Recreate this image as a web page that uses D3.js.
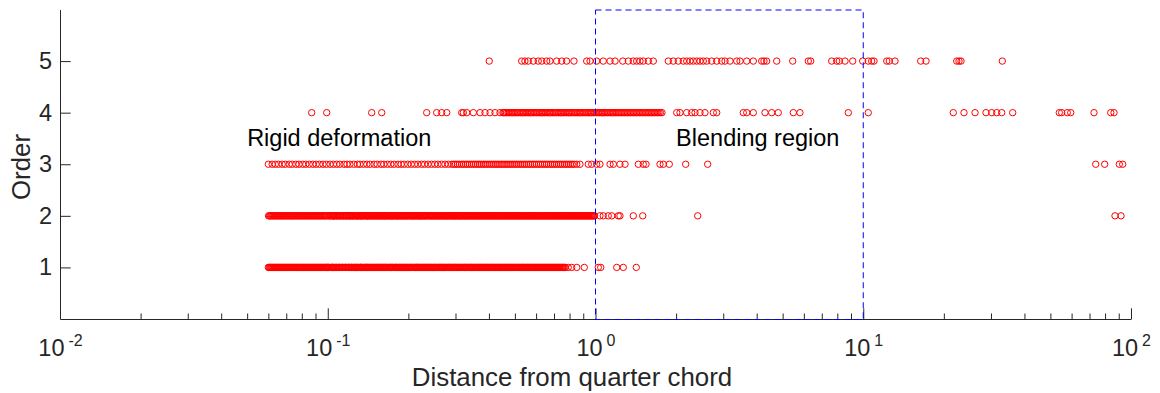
<!DOCTYPE html>
<html>
<head>
<meta charset="utf-8">
<script src="https://cdn.jsdelivr.net/npm/d3@7"></script>
<style>
  body { margin: 0; background: #fff; }
  text { font-family: "Liberation Sans", Arial, Helvetica, sans-serif; }
</style>
</head>
<body>
<svg id="chart" width="1160" height="393"></svg>
<script>
// Distance from quarter chord of each node, grouped by its assigned order
const order1Dist = [
  0.0600, 0.0604, 0.0608, 0.0612, 0.0615, 0.0619, 0.0623, 0.0627, 0.0631, 0.0635,
  0.0639, 0.0643, 0.0647, 0.0651, 0.0655, 0.0660, 0.0664, 0.0668, 0.0672, 0.0677,
  0.0681, 0.0686, 0.0690, 0.0694, 0.0699, 0.0703, 0.0708, 0.0713, 0.0717, 0.0722,
  0.0727, 0.0731, 0.0736, 0.0741, 0.0746, 0.0750, 0.0755, 0.0760, 0.0765, 0.0770,
  0.0775, 0.0780, 0.0785, 0.0790, 0.0795, 0.0800, 0.0806, 0.0811, 0.0816, 0.0822,
  0.0827, 0.0832, 0.0838, 0.0843, 0.0849, 0.0854, 0.0860, 0.0865, 0.0871, 0.0877,
  0.0882, 0.0888, 0.0894, 0.0899, 0.0905, 0.0911, 0.0917, 0.0923, 0.0929, 0.0935,
  0.0941, 0.0947, 0.0953, 0.0960, 0.0966, 0.0972, 0.0978, 0.0985, 0.0991, 0.0996,
  0.1000, 0.1005, 0.101, 0.102, 0.103, 0.1035, 0.104, 0.1045, 0.105, 0.106, 0.107,
  0.1075, 0.108, 0.109, 0.110, 0.1105, 0.111, 0.112, 0.113, 0.1135, 0.114, 0.115,
  0.116, 0.1165, 0.117, 0.118, 0.119, 0.1195, 0.120, 0.121, 0.122, 0.1225, 0.123,
  0.124, 0.125, 0.126, 0.127, 0.1275, 0.128, 0.129, 0.130, 0.131, 0.132, 0.1325,
  0.133, 0.134, 0.135, 0.136, 0.137, 0.138, 0.139, 0.1395, 0.140, 0.141, 0.142,
  0.143, 0.144, 0.145, 0.146, 0.147, 0.148, 0.149, 0.150, 0.151, 0.152, 0.153, 0.154,
  0.155, 0.156, 0.157, 0.158, 0.159, 0.160, 0.161, 0.162, 0.163, 0.164, 0.165, 0.166,
  0.1675, 0.169, 0.170, 0.171, 0.172, 0.173, 0.174, 0.175, 0.1765, 0.178, 0.179,
  0.180, 0.181, 0.182, 0.1835, 0.185, 0.186, 0.187, 0.1885, 0.190, 0.191, 0.192,
  0.1935, 0.195, 0.196, 0.197, 0.1985, 0.200, 0.2015, 0.203, 0.204, 0.205, 0.2065,
  0.208, 0.2095, 0.211, 0.2125, 0.214, 0.215, 0.216, 0.2175, 0.219, 0.2205, 0.222,
  0.2235, 0.225, 0.2265, 0.228, 0.2295, 0.231, 0.2325, 0.234, 0.2355, 0.237, 0.2385,
  0.240, 0.2415, 0.243, 0.2445, 0.246, 0.248, 0.250, 0.2515, 0.253, 0.2545, 0.256,
  0.258, 0.260, 0.2615, 0.263, 0.2645, 0.266, 0.268, 0.270, 0.2715, 0.273, 0.275,
  0.277, 0.279, 0.281, 0.2825, 0.284, 0.286, 0.288, 0.290, 0.292, 0.294, 0.296,
  0.2975, 0.299, 0.301, 0.303, 0.305, 0.307, 0.309, 0.311, 0.313, 0.315, 0.3175,
  0.320, 0.322, 0.324, 0.326, 0.328, 0.330, 0.332, 0.3345, 0.337, 0.339, 0.341,
  0.343, 0.345, 0.3475, 0.350, 0.3525, 0.355, 0.357, 0.359, 0.3615, 0.364, 0.3665,
  0.369, 0.371, 0.373, 0.3755, 0.378, 0.3805, 0.383, 0.3855, 0.388, 0.3905, 0.393,
  0.3955, 0.398, 0.401, 0.404, 0.4065, 0.409, 0.4115, 0.414, 0.417, 0.420, 0.4225,
  0.425, 0.428, 0.431, 0.4335, 0.436, 0.439, 0.442, 0.445, 0.448, 0.451, 0.454,
  0.457, 0.460, 0.463, 0.466, 0.469, 0.472, 0.475, 0.478, 0.481, 0.484, 0.4875,
  0.491, 0.494, 0.497, 0.5005, 0.504, 0.507, 0.510, 0.5135, 0.517, 0.5205, 0.524,
  0.5275, 0.531, 0.534, 0.537, 0.5405, 0.544, 0.548, 0.552, 0.5555, 0.559, 0.5625,
  0.566, 0.570, 0.574, 0.5775, 0.581, 0.585, 0.589, 0.5925, 0.596, 0.600, 0.604,
  0.608, 0.612, 0.616, 0.620, 0.624, 0.628, 0.632, 0.636, 0.6405, 0.645, 0.649,
  0.653, 0.6575, 0.662, 0.666, 0.670, 0.6745, 0.679, 0.6835, 0.688, 0.6925, 0.697,
  0.7015, 0.706, 0.7105, 0.715, 0.720, 0.725, 0.7295, 0.734, 0.739, 0.744, 0.749,
  0.754, 0.759, 0.765,
  0.772, 0.791, 0.815, 0.851, 0.908, 1.024, 1.046, 1.200, 1.270, 1.420
];

const order2Dist = [
  0.0601, 0.0606, 0.0611, 0.0616, 0.0622, 0.0627, 0.0632, 0.0637, 0.0643, 0.0649,
  0.0655, 0.0660, 0.0666, 0.0671, 0.0677, 0.0683, 0.0689, 0.0694, 0.0700, 0.0706,
  0.0713, 0.0719, 0.0726, 0.0732, 0.0738, 0.0744, 0.0750, 0.0757, 0.0764, 0.0770,
  0.0777, 0.0783, 0.0790, 0.0797, 0.0804, 0.0811, 0.0818, 0.0825, 0.0832, 0.0839,
  0.0846, 0.0853, 0.0861, 0.0868, 0.0876, 0.0883, 0.0891, 0.0898, 0.0906, 0.0914,
  0.0922, 0.0930, 0.0938, 0.0946, 0.0954, 0.0962, 0.0970, 0.0978, 0.0987, 0.0995,
  0.101, 0.1015, 0.102, 0.103, 0.104, 0.1045, 0.105, 0.1055, 0.106, 0.107, 0.108,
  0.1085, 0.109, 0.110, 0.111, 0.1115, 0.112, 0.113, 0.114, 0.1145, 0.115, 0.116,
  0.117, 0.1175, 0.118, 0.119, 0.120, 0.1205, 0.121, 0.122, 0.123, 0.1235, 0.124,
  0.125, 0.126, 0.127, 0.128, 0.1285, 0.129, 0.130, 0.131, 0.132, 0.133, 0.1335,
  0.134, 0.135, 0.136, 0.137, 0.138, 0.139, 0.140, 0.1405, 0.141, 0.142, 0.143,
  0.144, 0.145, 0.146, 0.147, 0.148, 0.149, 0.150, 0.151, 0.152, 0.153, 0.154, 0.155,
  0.156, 0.157, 0.158, 0.159, 0.160, 0.161, 0.162, 0.163, 0.164, 0.165, 0.166, 0.167,
  0.1685, 0.170, 0.171, 0.172, 0.173, 0.174, 0.175, 0.176, 0.1775, 0.179, 0.180,
  0.181, 0.182, 0.183, 0.1845, 0.186, 0.187, 0.188, 0.1895, 0.191, 0.192, 0.193,
  0.1945, 0.196, 0.197, 0.198, 0.1995, 0.201, 0.2025, 0.204, 0.2055, 0.207, 0.208,
  0.209, 0.2105, 0.212, 0.2135, 0.215, 0.2165, 0.218, 0.2195, 0.221, 0.222, 0.223,
  0.2245, 0.226, 0.2275, 0.229, 0.2305, 0.232, 0.2335, 0.235, 0.237, 0.239, 0.2405,
  0.242, 0.2435, 0.245, 0.2465, 0.248, 0.2495, 0.251, 0.253, 0.255, 0.2565, 0.258,
  0.2595, 0.261, 0.263, 0.265, 0.2665, 0.268, 0.270, 0.272, 0.2735, 0.275, 0.277,
  0.279, 0.2805, 0.282, 0.284, 0.286, 0.288, 0.290, 0.292, 0.294, 0.2955, 0.297,
  0.299, 0.301, 0.303, 0.305, 0.307, 0.309, 0.311, 0.313, 0.315, 0.317, 0.3195,
  0.322, 0.324, 0.326, 0.328, 0.330, 0.332, 0.334, 0.3365, 0.339, 0.341, 0.343,
  0.3455, 0.348, 0.350, 0.352, 0.3545, 0.357, 0.359, 0.361, 0.3635, 0.366, 0.3685,
  0.371, 0.3735, 0.376, 0.3785, 0.381, 0.3835, 0.386, 0.3885, 0.391, 0.3935, 0.396,
  0.3985, 0.401, 0.4035, 0.406, 0.409, 0.412, 0.4145, 0.417, 0.4195, 0.422, 0.425,
  0.428, 0.4305, 0.433, 0.436, 0.439, 0.442, 0.445, 0.448, 0.451, 0.454, 0.457,
  0.460, 0.463, 0.466, 0.469, 0.472, 0.475, 0.478, 0.481, 0.484, 0.487, 0.4905,
  0.494, 0.497, 0.500, 0.5035, 0.507, 0.510, 0.513, 0.5165, 0.520, 0.5235, 0.527,
  0.5305, 0.534, 0.5375, 0.541, 0.5445, 0.548, 0.5515, 0.555, 0.5585, 0.562, 0.566,
  0.570, 0.5735, 0.577, 0.581, 0.585, 0.5885, 0.592, 0.596, 0.600, 0.604, 0.608,
  0.612, 0.616, 0.620, 0.624, 0.628, 0.632, 0.6365, 0.641, 0.645, 0.649, 0.6535,
  0.658, 0.662, 0.666, 0.6705, 0.675, 0.6795, 0.684, 0.6885, 0.693, 0.6975, 0.702,
  0.7065, 0.711, 0.7155, 0.720, 0.725, 0.730, 0.7345, 0.739, 0.744, 0.749, 0.754,
  0.759, 0.764, 0.769, 0.774, 0.779, 0.784, 0.789, 0.7945, 0.800, 0.805, 0.810,
  0.8155, 0.821, 0.8265, 0.832, 0.8375, 0.843, 0.8485, 0.854, 0.8595, 0.865, 0.8705,
  0.876, 0.882, 0.888, 0.894, 0.900, 0.9055, 0.911, 0.917, 0.923, 0.9295, 0.936,
  0.942, 0.948, 0.954, 0.960, 0.9665, 0.973, 0.9795, 0.986, 0.992,
  1.039, 1.069, 1.116, 1.150, 1.216, 1.234, 1.384, 1.501, 2.408, 87.15, 91.78
];

const order3Dist = [
  0.0600, 0.0620, 0.0637, 0.0655, 0.0676, 0.0694, 0.0718, 0.0737, 0.0760, 0.0781,
  0.0806, 0.0828, 0.0853, 0.0880, 0.0905, 0.0931, 0.0960, 0.0988, 0.102, 0.105,
  0.108, 0.111, 0.115, 0.118, 0.121, 0.125, 0.129, 0.132, 0.136, 0.140, 0.144, 0.149,
  0.153, 0.158, 0.162, 0.167, 0.172, 0.177, 0.183, 0.188, 0.193, 0.199, 0.205, 0.211,
  0.217, 0.224, 0.230, 0.237, 0.244, 0.251, 0.258, 0.266, 0.274, 0.282, 0.290,
  0.295, 0.300, 0.305, 0.310, 0.316, 0.321, 0.327, 0.332, 0.338, 0.344, 0.350, 0.356,
  0.362, 0.368, 0.374, 0.381, 0.387, 0.394, 0.401, 0.408, 0.415, 0.422, 0.429, 0.436,
  0.444, 0.451, 0.459, 0.467, 0.475, 0.483, 0.491, 0.500, 0.508, 0.517, 0.526, 0.535,
  0.544, 0.553, 0.563, 0.572, 0.582, 0.592, 0.602, 0.613, 0.623, 0.634, 0.645, 0.656,
  0.667, 0.679, 0.690, 0.702, 0.714, 0.727, 0.739, 0.752, 0.765, 0.778, 0.791, 0.805,
  0.819, 0.833, 0.851, 0.875, 0.940, 0.968, 1.010, 1.039, 1.133, 1.166, 1.234, 1.289,
  1.445, 1.508, 1.544, 1.741, 1.791, 1.886, 2.172, 2.624,
  73.82, 79.75, 90.43, 93.11
];

const order4Dist = [
  0.0871, 0.0991, 0.1459, 0.1591, 0.2342, 0.2552, 0.2665, 0.2782, 0.3165, 0.3209,
  0.3304, 0.3497, 0.3704, 0.3866, 0.4036, 0.4213, 0.4398,
  0.4512, 0.455, 0.4592, 0.465, 0.4712, 0.477, 0.4835, 0.488, 0.4919, 0.498, 0.5047,
  0.511, 0.5179, 0.525, 0.5315, 0.536, 0.5407, 0.548, 0.5548, 0.562, 0.5693, 0.574,
  0.5792, 0.587, 0.5943, 0.602, 0.6099, 0.618, 0.6258, 0.631, 0.6367, 0.645, 0.6533,
  0.662, 0.6704, 0.676, 0.6820, 0.691, 0.6998, 0.709, 0.7181, 0.728, 0.7369, 0.743,
  0.7497, 0.759, 0.7693, 0.779, 0.7894, 0.796, 0.8031, 0.813, 0.8241, 0.835, 0.8456,
  0.856, 0.8677, 0.875, 0.8829, 0.894, 0.9059, 0.918, 0.9296, 0.942, 0.9538, 0.962,
  0.9704, 0.983, 0.9957, 1.008, 1.0217, 1.035, 1.0484, 1.057, 1.0666, 1.080, 1.0945,
  1.108, 1.1231, 1.138, 1.1524, 1.162, 1.1724, 1.188, 1.2030, 1.219, 1.2344, 1.250,
  1.2667, 1.283, 1.2998, 1.316, 1.3337, 1.351, 1.3686, 1.386, 1.4043, 1.422, 1.4410,
  1.460, 1.4787, 1.498, 1.5173, 1.537, 1.5570, 1.577, 1.5976, 1.618, 1.6394, 1.660,
  1.6822, 1.704, 1.7262, 1.748, 1.7713,
  2.011, 2.068, 2.191, 2.287, 2.353, 2.457, 2.564, 2.754, 2.836, 3.565, 3.671, 3.885,
  4.296, 4.551, 4.816, 5.480, 5.803, 8.795, 10.44, 21.69, 23.78, 26.15, 28.74, 30.18,
  31.51, 32.89, 36.15, 53.98, 55.11, 57.83, 59.55, 72.74, 84.01, 86.43
];

const order5Dist = [
  0.401, 0.530, 0.545, 0.561, 0.586, 0.611, 0.630, 0.657, 0.676, 0.716, 0.748, 0.780,
  0.831, 0.927, 0.954, 1.010, 1.069, 1.133, 1.183, 1.264, 1.326, 1.384, 1.425, 1.466,
  1.508, 1.575, 1.644, 1.870, 1.952, 2.038, 2.128, 2.191, 2.254, 2.319, 2.388, 2.457,
  2.527, 2.602, 2.716, 2.836, 2.961, 3.046, 3.180, 3.368, 3.465, 3.671, 3.885, 4.176,
  4.259, 4.357, 4.751, 5.452, 6.233, 6.364, 7.624, 7.959, 8.139, 8.549, 9.134, 9.952,
  10.44, 10.75, 10.97, 12.24, 12.51, 13.14, 16.39, 17.16, 22.34, 22.78, 23.18, 33.06
];

const orderLevels = [1, 2, 3, 4, 5];
const yTickValues = [1, 2, 3, 4, 5];
const xTickValues = [0.01, 0.1, 1, 10, 100];
const xTickExponents = ["-2", "-1", "0", "1", "2"];
const blendDistRange = [1, 10];
const orderSpan = [0, 6];
const notes = [
  { text: "Rigid deformation", dist: 0.05, order: 3.5 },
  { text: "Blending region", dist: 2, order: 3.5 }
];

const svg = d3.select("#chart");
const axisColor = "#262626";

const x = d3.scaleLog().domain([0.01, 100]).range([60, 1131]);
const y = d3.scaleLinear().domain(orderSpan).range([319, 9.5]);

// minor log ticks (2..9 within each decade)
const minorTicks = x.ticks().filter(v => !xTickValues.some(m => Math.abs(m - v) / m < 1e-9));

// x axis: minor ticks, then major ticks with the axis line
const gxMinor = svg.append("g").attr("transform", `translate(0,${y(0)})`)
  .call(d3.axisBottom(x).tickValues(minorTicks).tickSize(-5.5).tickSizeOuter(0).tickFormat(""));
gxMinor.select(".domain").remove();
const gx = svg.append("g").attr("transform", `translate(0,${y(0)})`)
  .call(d3.axisBottom(x).tickValues(xTickValues).tickSize(-10.7).tickSizeOuter(0).tickFormat(""));
[gxMinor, gx].forEach(g => {
  g.selectAll("line").attr("stroke", axisColor);
  g.selectAll(".domain").attr("stroke", axisColor);
});

// y axis
const gy = svg.append("g").attr("transform", `translate(${x(0.01)},0)`)
  .call(d3.axisLeft(y).tickValues(yTickValues).tickFormat(d3.format("d"))
    .tickSize(-10.7).tickSizeOuter(0).tickPadding(8));
gy.selectAll("line").attr("stroke", axisColor);
gy.select(".domain").attr("stroke", axisColor);
gy.selectAll("text").attr("fill", axisColor).attr("font-size", 23.5)
  .attr("font-family", '"Liberation Sans", Arial, sans-serif');

// x tick labels as powers of ten
svg.append("g").selectAll("text").data(xTickValues).join("text")
  .attr("x", d => x(d) + 0.5)
  .attr("y", 356)
  .attr("text-anchor", "middle")
  .attr("font-size", 23.5)
  .attr("fill", axisColor)
  .each(function (d, i) {
    const t = d3.select(this);
    t.append("tspan").text("10");
    t.append("tspan").attr("dx", 4).attr("dy", -10).attr("font-size", 16).text(xTickExponents[i]);
  });

// axis titles
svg.append("text")
  .attr("x", 572).attr("y", 386)
  .attr("text-anchor", "middle")
  .attr("font-size", 25.85)
  .attr("fill", axisColor)
  .text("Distance from quarter chord");

svg.append("text")
  .attr("transform", "translate(29.5,167) rotate(-90)")
  .attr("text-anchor", "middle")
  .attr("font-size", 25.85)
  .attr("fill", axisColor)
  .text("Order");

// scattered nodes
const points = [order1Dist, order2Dist, order3Dist, order4Dist, order5Dist]
  .flatMap((arr, i) => arr.map(dist => ({ dist, order: orderLevels[i] })));

svg.append("g").selectAll("circle").data(points).join("circle")
  .attr("cx", d => x(d.dist))
  .attr("cy", d => y(d.order))
  .attr("r", 3.2)
  .attr("fill", "none")
  .attr("stroke", "#ff0000")
  .attr("stroke-width", 1);

// blending region outline
svg.append("rect")
  .attr("x", x(blendDistRange[0]))
  .attr("y", y(orderSpan[1]) + 0.5)
  .attr("width", x(blendDistRange[1]) - x(blendDistRange[0]))
  .attr("height", y(orderSpan[0]) - y(orderSpan[1]))
  .attr("fill", "none")
  .attr("stroke", "#0000ff")
  .attr("stroke-width", 1)
  .attr("stroke-dasharray", "6,4");

// region annotations
svg.append("g").selectAll("text").data(notes).join("text")
  .attr("x", d => x(d.dist))
  .attr("y", d => y(d.order) + 8)
  .attr("font-size", 23.5)
  .attr("fill", "#000")
  .text(d => d.text);
</script>
</body>
</html>
